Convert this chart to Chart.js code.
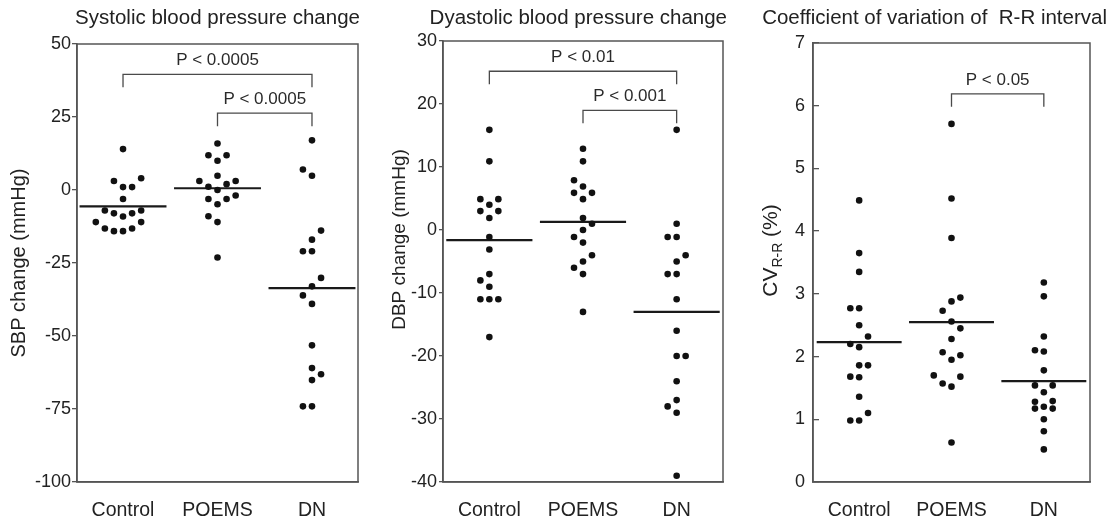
<!DOCTYPE html>
<html><head><meta charset="utf-8">
<script src="https://cdn.jsdelivr.net/npm/chart.js@4.4.1/dist/chart.umd.min.js"></script>
<style>
html,body{margin:0;padding:0;background:#fff;width:1115px;height:518px;overflow:hidden}
canvas{position:absolute;top:0}
</style></head><body>
<canvas id="c1" width="372" height="518" style="left:0px"></canvas>
<canvas id="c2" width="363" height="518" style="left:372px"></canvas>
<canvas id="c3" width="380" height="518" style="left:735px"></canvas>
<script>
// ---------- DATA ----------
const categories = ['Control', 'POEMS', 'DN'];

// Systolic blood pressure change (mmHg)
const sbpControl = [14.0, 3.1, 4.0, 1.0, 1.0, -3.1, -7.0, -8.0, -8.0, -7.0, -9.1, -11.0, -11.0, -13.2, -14.1, -14.1, -13.2];
const sbpControlCol = [0, -1, 2, 0, 1, 0, -2, -1, 1, 2, 0, -3, 2, -2, -1, 0, 1];
const sbpPoems = [15.9, 11.9, 11.9, 10.0, 4.9, 3.1, 3.1, 1.1, 2.0, 0.0, -3.1, -3.1, -1.9, -4.9, -9.0, -11.0, -23.1];
const sbpPoemsCol = [0, -1, 1, 0, 0, -2, 2, -1, 1, 0, -1, 1, 2, 0, -1, 0, 0];
const sbpDn = [17.0, 7.0, 4.9, -13.9, -17.0, -21.0, -21.0, -30.1, -33.0, -36.1, -39.0, -53.2, -61.0, -63.1, -65.1, -74.1, -74.1];
const sbpDnCol = [0, -1, 0, 1, 0, -1, 0, 1, 0, -1, 0, 0, 0, 1, 0, -1, 0];
const sbpMeans = [-5.6, 0.6, -33.6];
const sbpTicks = [50, 25, 0, -25, -50, -75, -100];
const sbpBracketFrom = [0, 1];
const sbpBracketTo = [2, 2];
const sbpBracketLevel = [39.6, 26.3];
const sbpBracketText = ['P < 0.0005', 'P < 0.0005'];

// Diastolic blood pressure change (mmHg)
const dbpControl = [15.9, 10.9, 4.9, 4.9, 4.0, 3.0, 3.0, 1.9, -1.1, -3.1, -7.0, -8.0, -9.0, -11.0, -11.0, -11.0, -17.0];
const dbpControlCol = [0, 0, -1, 1, 0, -1, 1, 0, 0, 0, 0, -1, 0, -1, 0, 1, 0];
const dbpPoems = [12.9, 10.9, 7.9, 6.9, 5.9, 5.9, 4.9, 1.9, 1.0, 0.0, -1.1, -2.0, -4.0, -5.0, -6.0, -7.0, -13.0];
const dbpPoemsCol = [0, 0, -1, 0, -1, 1, 0, 0, 1, 0, -1, 0, 1, 0, -1, 0, 0];
const dbpDn = [15.9, 1.0, -1.1, -1.1, -4.0, -5.0, -7.0, -7.0, -11.0, -16.0, -20.0, -20.0, -24.0, -27.0, -28.0, -29.0, -39.0];
const dbpDnCol = [0, 0, -1, 0, 1, 0, -1, 0, 0, 0, 0, 1, 0, 0, -1, 0, 0];
const dbpMeans = [-1.6, 1.3, -13.0];
const dbpTicks = [30, 20, 10, 0, -10, -20, -30, -40];
const dbpBracketFrom = [0, 1];
const dbpBracketTo = [2, 2];
const dbpBracketLevel = [25.2, 19.0];
const dbpBracketText = ['P < 0.01', 'P < 0.001'];

// Coefficient of variation of R-R interval (%)
const cvControl = [4.49, 3.65, 3.35, 2.77, 2.77, 2.50, 2.32, 2.20, 2.15, 1.86, 1.86, 1.68, 1.67, 1.36, 1.10, 0.98, 0.98];
const cvControlCol = [0, 0, 0, -1, 0, 0, 1, -1, 0, 0, 1, -1, 0, 0, 1, -1, 0];
const cvPoems = [5.71, 4.52, 3.89, 2.94, 2.88, 2.73, 2.56, 2.45, 2.28, 2.07, 2.02, 1.95, 1.70, 1.68, 1.57, 1.52, 0.63];
const cvPoemsCol = [0, 0, 0, 1, 0, -1, 0, 1, 0, -1, 1, 0, -2, 1, -1, 0, 0];
const cvDn = [3.18, 2.96, 2.32, 2.10, 2.08, 1.78, 1.54, 1.54, 1.43, 1.28, 1.17, 1.20, 1.29, 1.17, 1.00, 0.81, 0.52];
const cvDnCol = [0, 0, 0, -1, 0, 0, -1, 1, 0, -1, -1, 0, 1, 1, 0, 0, 0];
const cvMeans = [2.23, 2.55, 1.61];
const cvTicks = [7, 6, 5, 4, 3, 2, 1, 0];
const cvBracketFrom = [1];
const cvBracketTo = [2];
const cvBracketLevel = [6.19];
const cvBracketText = ['P < 0.05'];

// ---------- STYLE ----------
const FONT = '"Liberation Sans", Arial, Helvetica, sans-serif';
const TXT = '#222';
const AX = '#555';
const COL_STEP = 0.096;   // horizontal spacing of dots sharing a row (category units)
const MEAN_HALF = 0.46;   // half length of mean bar (category units)
Chart.defaults.font.family = FONT;

function buildPanel(id, o) {
  const dots = [];
  o.groups.forEach((vals, gi) => vals.forEach((v, k) => dots.push({x: gi + o.cols[gi][k] * COL_STEP, y: v})));
  const datasets = [{
    type: 'scatter', data: dots, pointRadius: 3.3, pointHoverRadius: 3.3,
    pointBackgroundColor: '#111', pointBorderWidth: 0, showLine: false
  }];
  o.means.forEach((m, gi) => datasets.push({
    type: 'line', data: [{x: gi - MEAN_HALF, y: m}, {x: gi + MEAN_HALF, y: m}],
    borderColor: '#1a1a1a', borderWidth: 2.2, pointRadius: 0, fill: false
  }));

  const decor = {
    id: 'decor' + id,
    afterDatasetsDraw(chart) {
      const {ctx, chartArea: a, scales: {x, y}} = chart;
      ctx.save();
      // frame
      ctx.strokeStyle = AX; ctx.lineWidth = 1.5;
      ctx.strokeRect(a.left, a.top, a.right - a.left, a.bottom - a.top);
      // brackets
      ctx.lineWidth = 1.3; ctx.strokeStyle = '#4a4a4a';
      ctx.fillStyle = '#2a2a2a'; ctx.font = '17px ' + FONT;
      ctx.textAlign = 'center'; ctx.textBaseline = 'alphabetic';
      o.bFrom.forEach((f, i) => {
        const x1 = x.getPixelForValue(f), x2 = x.getPixelForValue(o.bTo[i]);
        const yt = y.getPixelForValue(o.bLevel[i]);
        ctx.beginPath();
        ctx.moveTo(x1, yt + 13); ctx.lineTo(x1, yt); ctx.lineTo(x2, yt); ctx.lineTo(x2, yt + 13);
        ctx.stroke();
        ctx.fillText(o.bText[i], (x1 + x2) / 2, yt - 9);
      });
      // panel title
      ctx.font = '20.5px ' + FONT; ctx.fillStyle = TXT;
      const w = ctx.measureText(o.title).width;
      const cx = Math.min((a.left + a.right) / 2, chart.width - w / 2 - 8);
      ctx.fillText(o.title, cx, 23.5);
      // custom rotated y title (with optional subscript)
      if (o.sideTitle) {
        const s = o.sideTitle;
        const big = s.size + 'px ' + FONT, small = s.subSize + 'px ' + FONT;
        ctx.translate(s.x, (a.top + a.bottom) / 2 + s.dy);
        ctx.rotate(-Math.PI / 2);
        ctx.textAlign = 'left';
        ctx.font = big; const w1 = ctx.measureText(s.main).width;
        ctx.font = small; const w2 = s.sub ? ctx.measureText(s.sub).width : 0;
        ctx.font = big; const w3 = s.tail ? ctx.measureText(s.tail).width : 0;
        let px = -(w1 + w2 + w3) / 2;
        ctx.font = big; ctx.fillText(s.main, px, 0); px += w1;
        if (s.sub) { ctx.font = small; ctx.fillText(s.sub, px, 5); px += w2; }
        if (s.tail) { ctx.font = big; ctx.fillText(s.tail, px, 0); }
      }
      ctx.restore();
    }
  };

  return new Chart(document.getElementById(id), {
    type: 'scatter',
    data: {datasets},
    plugins: [decor],
    options: {
      responsive: false, animation: false, events: [],
      layout: {padding: {left: 0, right: o.padR, top: o.padT, bottom: 0}},
      plugins: {legend: {display: false}, tooltip: {enabled: false}, title: {display: false}},
      scales: {
        x: {
          type: 'linear', min: o.xmin, max: o.xmax,
          afterBuildTicks: s => { s.ticks = categories.map((c, i) => ({value: i})); },
          ticks: {callback: v => categories[v], font: {size: 19.5}, color: TXT, padding: 9, maxRotation: 0, autoSkip: false},
          grid: {display: false},
          border: {display: true, color: AX, width: 1.5},
          afterFit: s => { s.height = 36; }
        },
        y: {
          type: 'linear', min: o.ymin, max: o.ymax,
          afterBuildTicks: s => { s.ticks = o.ticks.map(v => ({value: v})); },
          ticks: {callback: v => String(v), font: {size: 18}, color: TXT, padding: o.tickPad, autoSkip: false},
          grid: {drawOnChartArea: false, drawTicks: true, tickLength: o.tickLen, color: AX, lineWidth: 1.3},
          border: {display: true, color: AX, width: 1.5},
          title: o.yTitle ? {display: true, text: o.yTitle, font: {size: o.yTitleSize}, color: TXT, padding: {top: o.yTitlePad, bottom: 0}} : {display: false},
          afterFit: s => { s.width = o.yWidth; }
        }
      }
    }
  });
}

buildPanel('c1', {
  groups: [sbpControl, sbpPoems, sbpDn], cols: [sbpControlCol, sbpPoemsCol, sbpDnCol], means: sbpMeans,
  ticks: sbpTicks, ymin: -100, ymax: 50, xmin: -0.487, xmax: 2.487,
  bFrom: sbpBracketFrom, bTo: sbpBracketTo, bLevel: sbpBracketLevel, bText: sbpBracketText,
  title: 'Systolic blood pressure change', yTitle: 'SBP change (mmHg)', yTitleSize: 20, yTitlePad: 7,
  yWidth: 77, padT: 44, padR: 14, tickLen: 5, tickPad: 1
});
buildPanel('c2', {
  groups: [dbpControl, dbpPoems, dbpDn], cols: [dbpControlCol, dbpPoemsCol, dbpDnCol], means: dbpMeans,
  ticks: dbpTicks, ymin: -40, ymax: 30, xmin: -0.495, xmax: 2.495,
  bFrom: dbpBracketFrom, bTo: dbpBracketTo, bLevel: dbpBracketLevel, bText: dbpBracketText,
  title: 'Dyastolic blood pressure change', yTitle: null,
  sideTitle: {main: 'DBP change (mmHg)', sub: '', tail: '', size: 19, subSize: 13, x: 33, dy: -22},
  yWidth: 71, padT: 41, padR: 12, tickLen: 4, tickPad: 2
});
buildPanel('c3', {
  groups: [cvControl, cvPoems, cvDn], cols: [cvControlCol, cvPoemsCol, cvDnCol], means: cvMeans,
  ticks: cvTicks, ymin: 0, ymax: 7, xmin: -0.5, xmax: 2.5,
  bFrom: cvBracketFrom, bTo: cvBracketTo, bLevel: cvBracketLevel, bText: cvBracketText,
  title: 'Coefficient of variation of  R-R interval', yTitle: null,
  sideTitle: {main: 'CV', sub: 'R-R', tail: ' (%)', size: 21, subSize: 14, x: 42, dy: -12},
  yWidth: 78, padT: 43, padR: 25, tickLen: -6, tickPad: 14
});
</script>
</body></html>
